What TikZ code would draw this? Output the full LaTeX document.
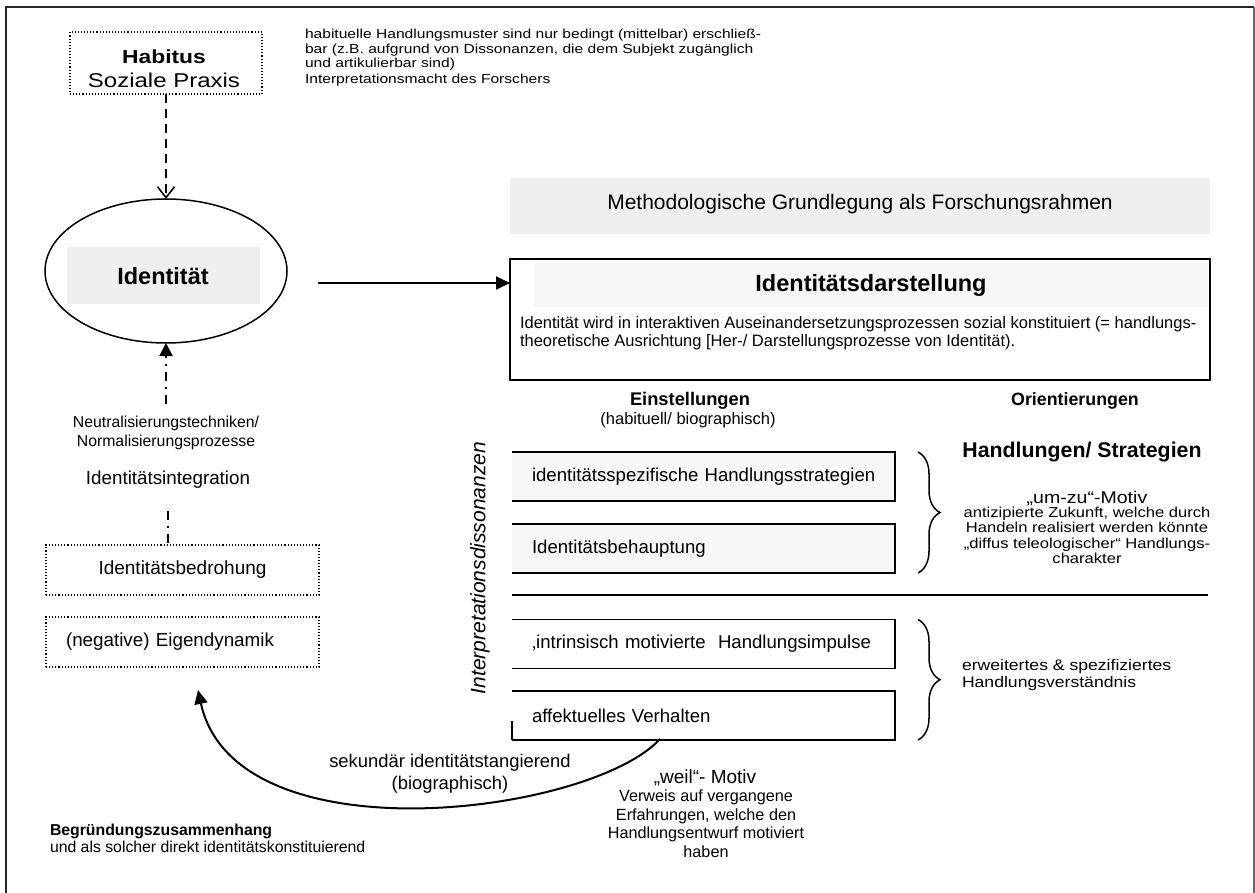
\documentclass[tikz,border=0pt]{standalone}
\usepackage{fontspec}
\setmainfont{Liberation Sans}
\newfontfamily\widesans[FakeStretch=1.2]{Liberation Sans}
\newfontfamily\semiwide[FakeStretch=1.15]{Liberation Sans}
\usetikzlibrary{arrows.meta,decorations.pathreplacing,calc,shapes.geometric}

\newcommand{\fsz}[2]{\fontsize{#1}{#2}\selectfont}
\definecolor{bandgrey}{HTML}{EFEFEF}
\definecolor{palegrey}{HTML}{F7F7F7}

\tikzset{
  every node/.style={inner sep=0pt, outer sep=0pt},
  dotbox/.style={draw, dotted, line width=1.1pt},
  boxline/.style={line width=1.6pt},
  dasharrow/.style={line width=2pt, dash pattern=on 9pt off 6pt,
    -{Straight Barb[length=11pt,width=17pt,line width=1.6pt]}},
  ddline/.style={line width=2pt, dash pattern=on 9pt off 6pt on 2pt off 6pt},
  solidarrow/.style={line width=2pt, -{Triangle[length=14pt,width=13pt]}},
  itembox/.style={minimum height=49pt, text width=343pt, inner xsep=20pt,
    align=left, font=\fsz{18.6}{21}},
  bracestyle/.style={line width=1.5pt, decorate,
    decoration={brace, amplitude=22pt}},
}

\begin{document}
\begin{tikzpicture}[x=1pt, y=-1pt]
\useasboundingbox (0,0) rectangle (1255,893);

% outer frame
\draw[line width=2.2pt, black!85] (6,893) -- (6,7) -- (1254,7);
\draw[line width=2.2pt, black!60] (1254,7) -- (1254,893);

% ---------- left column ----------
\node[dotbox, minimum width=192pt, minimum height=62pt] (hab) at (166,63) {};
\node[align=center, font=\widesans\fsz{20}{24}] (habtxt) at (164,69)
  {{\fsz{19}{24}\bfseries Habitus}\\Soziale Praxis};

\node[anchor=north west, align=left, font=\widesans\fsz{13}{14.6}]
  (note) at (305,29)
  {habituelle Handlungsmuster sind nur bedingt (mittelbar) erschließ-\\
   bar (z.B. aufgrund von Dissonanzen, die dem Subjekt zugänglich\\
   und artikulierbar sind)\\[1.5pt]
   Interpretationsmacht des Forschers};

\node[ellipse, draw, line width=1.5pt, minimum width=242pt,
  minimum height=144pt] (ell) at (166,271) {};
\node[fill=bandgrey, minimum width=193pt, minimum height=57pt] (idband)
  at (163.5,275.5) {};
\node[font=\fsz{23.5}{26}\bfseries] (idtxt) at (163,276) {Identität};

\draw[dasharrow] (hab.south) -- (ell.north);

\node[align=center, font=\fsz{15.8}{19}] (neut) at (166,433)
  {Neutralisierungstechniken/\\Normalisierungsprozesse};
\draw[ddline, shorten <=12pt, -{Triangle[length=13pt,width=13pt]}]
  (neut.north) -- (ell.south);

\node[font=\fsz{18.8}{21}] (integ) at (168,480) {Identitätsintegration};

\node[dotbox, minimum width=273pt, minimum height=50pt,
  font=\fsz{19}{21}] (bedr) at (182.5,570) {Identitätsbedrohung};
\draw[ddline, shorten <=22pt] (integ.south) -- (integ.south |- bedr.north);

\node[dotbox, minimum height=50pt, text width=233pt, inner xsep=20pt,
  align=left, font=\fsz{18.8}{21}] (eig) at (182.5,642)
  {(negative) Eigendynamik};

% ---------- right part ----------
\node[fill=bandgrey, minimum width=700pt, minimum height=56pt] (meth)
  at (860,206) {};
\node[font=\fsz{21}{23}] (methtxt) at (860,204)
  {Methodologische Grundlegung als Forschungsrahmen};

\node[draw, line width=1.6pt, minimum width=700pt, minimum height=121pt]
  (darst) at (860,319.5) {};
\node[fill=palegrey, minimum width=674pt, minimum height=44pt] (dband)
  at (871,285) {};
\node[font=\fsz{23.5}{25}\bfseries] (dtitle) at (871,285)
  {Identitätsdarstellung};
\node[anchor=north west, align=left, font=\fsz{16.5}{18}] (dbody)
  at (520,317)
  {Identität wird in interaktiven Auseinandersetzungsprozessen sozial konstituiert (= handlungs-\\
   theoretische Ausrichtung [Her-/ Darstellungsprozesse von Identität).};

\coordinate (astart) at (318,283);
\draw[solidarrow] (astart) -- (astart -| darst.west);

\node[font=\fsz{18.3}{20}\bfseries] (einst) at (690,401) {Einstellungen};
\node[font=\fsz{16.5}{18}] (einsub) at (688,420) {(habituell/ biographisch)};
\node[font=\fsz{17.8}{20}\bfseries] (orient) at (1075,401) {Orientierungen};

% item boxes (open on the left)
\node[itembox, fill=palegrey] (b1) at (703.5,476.5)
  {\mbox{identitätsspezifische Handlungsstrategien}};
\node[itembox, fill=palegrey] (b2) at (703.5,548.5)
  {\mbox{Identitätsbehauptung}};
\node[itembox] (b3) at (703.5,644)
  {\mbox{‚intrinsisch motivierte~ Handlungsimpulse}};
\node[itembox] (b4) at (703.5,715.5)
  {\mbox{affektuelles Verhalten}};
\foreach \b in {b1,b2,b3,b4}
  \draw[boxline] (\b.north west) -- (\b.north east) -- (\b.south east)
    -- (\b.south west);
\draw[boxline] (b4.south west) -- ++(0,-19);

\node[rotate=90, font=\fsz{21}{24}\itshape] (intd) at (480,568)
  {Interpretationsdissonanzen};

\coordinate (sepL) at (512,595);
\coordinate (sepR) at (1208,595);
\draw[line width=1.6pt] (sepL) -- (sepR);

\draw[bracestyle] ($(b1.north east)+(23,0)$) -- ($(b2.south east)+(23,0)$);
\draw[bracestyle] ($(b3.north east)+(23,0)$) -- ($(b4.south east)+(23,0)$);

\node[font=\fsz{21.3}{24}\bfseries] (hs) at (1082,452) {Handlungen/ Strategien};
\node[font=\semiwide\fsz{17}{18}] (umzu) at (1087,498) {„um-zu“-Motiv};
\node[anchor=north, align=center, font=\semiwide\fsz{14.4}{15.5}] (umzub)
  at (1087,507)
  {antizipierte Zukunft, welche durch\\
   Handeln realisiert werden könnte\\
   „diffus teleologischer“ Handlungs-\\
   charakter};

\node[anchor=west, align=left, font=\semiwide\fsz{15.3}{17}] (erw)
  at (962,675)
  {erweitertes \& spezifiziertes\\Handlungsverständnis};

% ---------- bottom ----------
\coordinate (cstart) at (660,739);
\coordinate (cend) at (198,690);
\draw[solidarrow] (cstart) .. controls (590,815) and (235,860) .. (cend);

\node[align=center, font=\fsz{18.4}{22}] (sek) at (450,774)
  {sekundär identitätstangierend\\(biographisch)};

\node[font=\fsz{19}{20}] (weil) at (705,778) {„weil“- Motiv};
\node[anchor=north, align=center, font=\fsz{16.2}{18.5}] (weilb) at (706,790)
  {Verweis auf vergangene\\Erfahrungen, welche den\\
   Handlungsentwurf motiviert\\haben};

\node[anchor=north west, align=left, font=\fsz{15.8}{17}] (begr) at (50,824)
  {\textbf{Begründungszusammenhang}\\
   und als solcher direkt identitätskonstituierend};
\end{tikzpicture}
\end{document}
